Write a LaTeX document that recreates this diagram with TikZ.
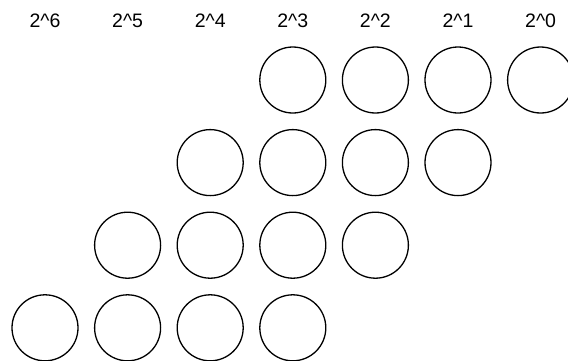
\documentclass[tikz,border=0pt]{standalone}
\usepackage{fontspec}
\setmainfont{Liberation Sans}
\begin{document}
\begin{tikzpicture}[x=1pt,y=-1pt,
  bit/.style={circle,draw=black,line width=1.3pt,minimum size=66pt,inner sep=0pt},
  lab/.style={font=\fontsize{19.5}{22}\selectfont,inner sep=0pt}]
\useasboundingbox (0,0) rectangle (568,360);
\foreach \e [count=\i from 0] in {6,5,4,3,2,1,0} {
  \node[lab] (l\e) at (45+82.6*\i,21) {2\^{}\e};
}
\foreach \r in {0,1,2,3} {
  \foreach \c in {0,1,2,3} {
    \pgfmathsetmacro{\xx}{45+82.6*(3-\r+\c)}
    \pgfmathsetmacro{\yy}{80+82.6*\r}
    \node[bit] (c\r\c) at (\xx,\yy) {};
  }
}
\end{tikzpicture}
\end{document}
